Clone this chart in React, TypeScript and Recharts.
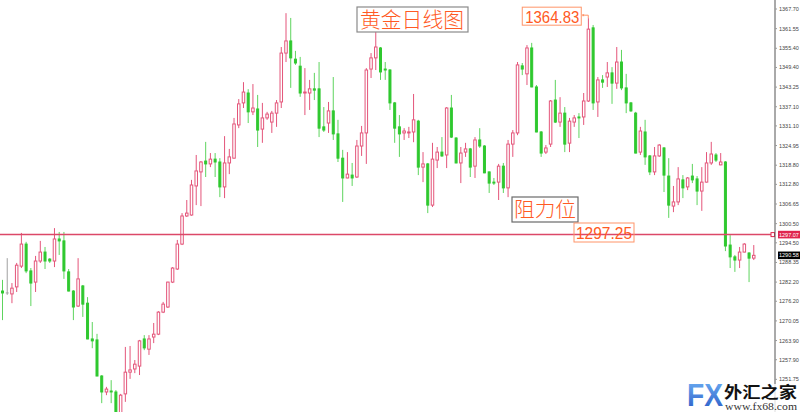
import React from "react";
import { ComposedChart, Bar, XAxis, YAxis, ReferenceLine, ReferenceDot, Label } from "recharts";

// 黄金日线 OHLC
const open = [
  1279.4, 1278.8, 1278.5, 1280.7, 1287.2, 1294.1, 1285.7, 1282.2, 1288.8, 1291.6,
  1289.4, 1288.8, 1295.7, 1295.1, 1285.4, 1279.4, 1274.7, 1281.0, 1275.6, 1264.4,
  1264.1, 1252.8, 1247.8, 1248.1, 1247.8, 1239.5, 1247.2, 1254.0, 1255.0, 1255.9,
  1264.4, 1261.2, 1265.0, 1265.9, 1272.8, 1274.4, 1282.2, 1286.3, 1294.1, 1302.9,
  1303.2, 1312.3, 1316.7, 1320.1, 1319.2, 1320.7, 1319.8, 1312.0, 1319.5, 1321.0,
  1331.4, 1338.3, 1341.4, 1335.5, 1336.4, 1330.1, 1333.6, 1332.3, 1335.1, 1338.6,
  1353.9, 1357.7, 1352.0, 1349.8, 1341.4, 1341.4, 1342.7, 1342.7, 1330.8, 1332.0,
  1335.8, 1328.6, 1321.0, 1314.8, 1315.7, 1315.1, 1324.8, 1328.9, 1348.9, 1352.4,
  1355.5, 1348.9, 1348.6, 1338.3, 1330.8, 1328.9, 1328.9, 1329.2, 1332.6, 1318.2,
  1319.2, 1306.3, 1320.4, 1322.9, 1322.0, 1336.7, 1327.3, 1319.5, 1322.9, 1323.9,
  1318.5, 1326.7, 1324.8, 1316.7, 1313.5, 1313.5, 1318.5, 1311.7, 1325.4, 1328.9,
  1349.9, 1347.4, 1355.5, 1343.3, 1329.2, 1322.9, 1325.4, 1339.2, 1332.3, 1335.1,
  1325.7, 1332.3, 1333.9, 1333.9, 1338.9, 1361.8, 1338.6, 1345.5, 1346.4, 1347.7,
  1344.5, 1351.1, 1343.0, 1338.3, 1335.1, 1322.9, 1329.2, 1321.7, 1316.7, 1321.7,
  1324.2, 1315.4, 1306.0, 1307.3, 1314.2, 1312.0, 1315.4, 1314.5, 1310.7, 1313.5,
  1319.5, 1322.0, 1318.9, 1319.8, 1293.8, 1290.1, 1289.1, 1291.6, 1291.3, 1289.7,
];
const high = [
  1282.9, 1289.7, 1281.9, 1288.2, 1297.6, 1294.8, 1286.6, 1290.4, 1295.1, 1293.2,
  1289.7, 1299.1, 1297.9, 1297.9, 1286.3, 1279.7, 1289.7, 1281.3, 1277.5, 1269.7,
  1266.0, 1253.1, 1249.4, 1251.5, 1248.4, 1247.2, 1261.9, 1262.2, 1257.8, 1264.1,
  1265.6, 1265.6, 1269.4, 1273.1, 1276.0, 1282.3, 1286.9, 1295.4, 1303.8, 1307.9,
  1314.2, 1322.0, 1320.1, 1326.1, 1322.6, 1322.6, 1321.0, 1327.9, 1323.9, 1333.6,
  1339.5, 1344.8, 1342.6, 1344.2, 1340.8, 1338.3, 1335.5, 1335.8, 1339.2, 1355.8,
  1366.4, 1364.9, 1354.6, 1352.7, 1349.2, 1345.5, 1347.7, 1351.1, 1337.0, 1338.6,
  1346.4, 1333.0, 1323.6, 1322.9, 1319.5, 1326.7, 1331.1, 1349.2, 1353.9, 1361.8,
  1355.8, 1351.1, 1348.9, 1338.6, 1334.5, 1330.4, 1330.8, 1341.1, 1333.0, 1322.9,
  1319.5, 1325.8, 1324.5, 1327.6, 1337.0, 1340.8, 1327.6, 1324.5, 1325.8, 1324.2,
  1327.6, 1330.4, 1325.1, 1316.8, 1314.8, 1319.2, 1319.5, 1326.7, 1329.8, 1351.1,
  1350.8, 1356.4, 1357.1, 1343.9, 1329.5, 1325.1, 1339.2, 1345.5, 1340.1, 1337.0,
  1333.6, 1334.5, 1335.1, 1341.4, 1364.83, 1362.7, 1346.4, 1347.0, 1351.1, 1349.5,
  1355.8, 1354.9, 1347.4, 1338.6, 1335.5, 1330.8, 1333.0, 1322.0, 1324.5, 1325.4,
  1324.5, 1321.0, 1312.3, 1318.2, 1315.7, 1315.1, 1319.2, 1315.4, 1318.2, 1322.9,
  1326.1, 1322.6, 1322.6, 1320.1, 1296.9, 1290.7, 1293.2, 1294.4, 1291.6, 1293.8,
];
const low = [
  1270.3, 1278.2, 1275.6, 1279.1, 1286.6, 1285.0, 1274.7, 1279.1, 1288.2, 1286.3,
  1288.2, 1286.9, 1290.7, 1283.2, 1279.3, 1270.3, 1274.4, 1271.3, 1264.3, 1261.5,
  1252.7, 1244.3, 1246.8, 1244.3, 1238.0, 1237.5, 1244.7, 1251.9, 1253.7, 1253.1,
  1260.9, 1259.4, 1263.1, 1265.6, 1272.5, 1274.1, 1281.9, 1286.0, 1293.8, 1302.6,
  1303.0, 1306.3, 1306.0, 1315.1, 1318.2, 1315.1, 1308.8, 1308.5, 1316.0, 1320.9,
  1330.4, 1336.7, 1332.0, 1334.5, 1324.5, 1325.8, 1333.0, 1328.9, 1330.8, 1336.7,
  1351.1, 1343.0, 1350.2, 1340.2, 1334.5, 1336.1, 1339.2, 1327.6, 1329.2, 1328.9,
  1326.7, 1319.8, 1307.3, 1314.7, 1312.3, 1314.8, 1321.7, 1319.2, 1346.1, 1348.6,
  1345.5, 1345.5, 1336.1, 1325.8, 1321.4, 1326.7, 1327.3, 1326.0, 1315.7, 1313.5,
  1303.8, 1305.7, 1317.9, 1321.4, 1317.9, 1327.3, 1319.4, 1313.2, 1321.4, 1315.1,
  1314.8, 1324.2, 1316.3, 1310.1, 1312.6, 1307.9, 1310.1, 1308.8, 1321.4, 1328.2,
  1347.0, 1343.9, 1343.2, 1329.1, 1321.4, 1322.3, 1324.5, 1332.0, 1330.8, 1322.9,
  1322.9, 1330.8, 1327.3, 1331.4, 1338.6, 1336.1, 1333.9, 1343.0, 1343.3, 1338.0,
  1342.7, 1342.3, 1335.1, 1335.5, 1322.5, 1322.0, 1318.9, 1315.7, 1315.7, 1321.4,
  1310.4, 1302.3, 1304.1, 1306.3, 1308.5, 1311.0, 1313.2, 1306.3, 1304.5, 1313.4,
  1318.9, 1319.8, 1318.8, 1291.9, 1286.6, 1285.4, 1286.6, 1291.5, 1282.2, 1289.1,
];
const close = [
  1278.8, 1278.8, 1280.3, 1287.5, 1294.1, 1285.7, 1281.9, 1288.8, 1291.6, 1288.8,
  1288.8, 1295.7, 1295.1, 1285.7, 1279.4, 1274.4, 1283.2, 1275.3, 1264.4, 1263.8,
  1252.8, 1247.8, 1248.7, 1247.8, 1240.5, 1246.8, 1254.0, 1254.7, 1256.5, 1263.8,
  1261.6, 1264.4, 1265.9, 1272.8, 1275.3, 1282.2, 1286.6, 1294.1, 1302.9, 1303.8,
  1312.6, 1317.0, 1319.8, 1319.2, 1320.7, 1319.8, 1312.0, 1319.5, 1321.4, 1331.7,
  1338.0, 1341.7, 1335.5, 1336.7, 1329.8, 1333.6, 1334.8, 1335.1, 1338.3, 1353.9,
  1357.7, 1352.4, 1350.8, 1341.4, 1341.7, 1342.7, 1342.3, 1330.4, 1329.8, 1335.8,
  1328.6, 1321.0, 1314.8, 1316.0, 1314.8, 1324.8, 1328.9, 1348.6, 1352.4, 1355.8,
  1348.0, 1348.6, 1338.3, 1330.4, 1328.6, 1329.5, 1329.2, 1333.0, 1318.2, 1319.2,
  1306.3, 1320.7, 1322.9, 1321.7, 1336.7, 1327.6, 1319.5, 1322.6, 1323.9, 1318.2,
  1326.7, 1324.8, 1316.4, 1313.2, 1313.2, 1318.5, 1311.7, 1325.4, 1328.9, 1350.2,
  1348.9, 1355.5, 1343.3, 1329.2, 1322.6, 1324.2, 1338.9, 1332.3, 1335.1, 1325.4,
  1332.6, 1333.6, 1333.6, 1338.9, 1361.4, 1338.3, 1345.5, 1344.8, 1347.7, 1344.5,
  1351.1, 1343.0, 1338.3, 1335.8, 1322.6, 1329.5, 1321.4, 1316.7, 1321.7, 1325.1,
  1315.7, 1306.3, 1307.3, 1314.5, 1311.7, 1314.8, 1314.2, 1310.7, 1313.5, 1319.5,
  1322.3, 1320.4, 1319.8, 1293.5, 1290.1, 1289.1, 1291.6, 1294.1, 1289.7, 1290.58,
];

const priceTicks = [
  1367.7, 1361.55, 1355.4, 1349.4, 1343.25, 1337.1, 1331.1, 1324.95, 1318.8, 1312.8,
  1306.65, 1300.5, 1294.5, 1288.35, 1282.2, 1276.2, 1270.05, 1263.9, 1257.9, 1251.75,
];
const resistance = 1297.07;
const lastPrice = 1290.58;
const peakDay = 125;
const peakPrice = 1364.83;

const data = open.map((o, i) => ({
  day: i + 1,
  open: o,
  high: high[i],
  low: low[i],
  close: close[i],
  range: [low[i], high[i]],
}));

const UP = "#e4557a";
const DOWN = "#2fc82f";
const DOWN_WICK = "#5ed45e";
const FLAT = "#a0a0a0";
const ORANGE = "#ff5a24";

const Candle = (props: any) => {
  const { x, y, width, height } = props;
  const p = props.payload || props;
  if (x == null || y == null) return null;
  const top = Math.min(y, y + height);
  const bot = Math.max(y, y + height);
  const k = p.high === p.low ? 0 : (bot - top) / (p.high - p.low);
  const py = (v: number) => top + (p.high - v) * k;
  const cx = x + width / 2;
  const up = p.close > p.open;
  const flat = p.close === p.open;
  const bTop = py(Math.max(p.open, p.close));
  const bBot = py(Math.min(p.open, p.close));
  if (flat) {
    return (
      <g>
        <line x1={cx} x2={cx} y1={top} y2={bot} stroke={FLAT} />
        <line x1={cx - 1.5} x2={cx + 1.5} y1={bTop} y2={bTop} stroke={FLAT} />
      </g>
    );
  }
  if (up) {
    return (
      <g>
        <line x1={cx} x2={cx} y1={top} y2={bot} stroke={UP} />
        <rect x={cx - 1.25} y={bTop} width={2.5} height={Math.max(bBot - bTop, 0.5)} fill="#fff" stroke={UP} strokeWidth={1} />
      </g>
    );
  }
  return (
    <g>
      <line x1={cx} x2={cx} y1={top} y2={bot} stroke={DOWN_WICK} />
      <rect x={cx - 1} y={bTop} width={2} height={Math.max(bBot - bTop, 0.5)} fill={DOWN} stroke={DOWN} strokeWidth={1} />
    </g>
  );
};

const AxisTag = ({ viewBox, value, bg, marker }: any) => {
  if (!viewBox) return null;
  const rx = viewBox.x + viewBox.width;
  const cy = viewBox.y;
  return (
    <g>
      {marker && <rect x={rx - 4} y={cy - 2} width={3.5} height={4} fill="#fff" stroke={bg} strokeWidth={1} />}
      <rect x={rx + 3} y={cy - 3.8} width={22} height={7.6} fill={bg} />
      <text x={rx + 4} y={cy + 2} fontSize={5.5} fill="#fff" fontFamily="Liberation Sans">
        {value.toFixed(2)}
      </text>
    </g>
  );
};

const PeakTag = (props: any) => {
  const { cx, cy } = props;
  if (cx == null) return null;
  return (
    <g>
      <rect x={cx - 66} y={cy - 11} width={59} height={18} fill="none" stroke="#ff9468" strokeWidth={1} />
      <text x={cx - 63} y={cy + 4.5} fontSize={17} fill={ORANGE} fontFamily="Liberation Sans" textLength={54} lengthAdjust="spacingAndGlyphs">
        {peakPrice.toFixed(2)}
      </text>
      <rect x={cx - 6} y={cy - 4} width={2} height={2} fill="#ff9468" />
      <polyline points={`${cx - 4},${cy - 3} ${cx},${cy - 3} ${cx},${cy}`} fill="none" stroke="#ff9468" strokeWidth={1} />
    </g>
  );
};

export default function App() {
  return (
    <div style={{ position: "relative", width: 800, height: 412, background: "#fff" }}>
      <style>{"body{margin:0}"}</style>
      <ComposedChart width={800} height={412} data={data} margin={{ top: 0, right: 0, bottom: 0, left: 0 }}>
        <XAxis dataKey="day" hide padding={{ left: 0, right: 19 }} />
        <YAxis
          orientation="right"
          width={25}
          domain={[1241.53, 1370.52]}
          allowDataOverflow
          ticks={priceTicks}
          interval={0}
          tickSize={2}
          tickMargin={2}
          tick={{ fontSize: 5.5, fill: "#444", fontFamily: "Liberation Sans" }}
          tickFormatter={(v: number) => v.toFixed(2)}
          axisLine={{ stroke: "#555" }}
          tickLine={{ stroke: "#999" }}
        />
        <Bar dataKey="range" barSize={3} shape={Candle} isAnimationActive={false} />
        <ReferenceLine y={resistance} stroke="#dc4868" strokeWidth={1.5}>
          <Label content={(p: any) => <AxisTag {...p} value={resistance} bg="#e0264e" marker />} />
        </ReferenceLine>
        <ReferenceLine y={lastPrice} stroke="#000" strokeOpacity={0}>
          <Label content={(p: any) => <AxisTag {...p} value={lastPrice} bg="#000" />} />
        </ReferenceLine>
        <ReferenceDot x={peakDay} y={peakPrice} r={0} ifOverflow="visible" shape={PeakTag} />
      </ComposedChart>
      <svg width={800} height={412} style={{ position: "absolute", left: 0, top: 0, pointerEvents: "none" }}>
        <defs>
          <linearGradient id="fxg" x1="0" y1="0" x2="0" y2="1">
            <stop offset="0%" stopColor="#6fb2f5" />
            <stop offset="100%" stopColor="#2657c4" />
          </linearGradient>
        </defs>
        <rect x={357} y={7} width={111} height={25} fill="#fff" stroke="#8a8a8a" strokeWidth={1.2} />
        <text x={360} y={27} fontSize={21} fontWeight={300} fill={ORANGE} fontFamily="Noto Sans CJK SC" textLength={104} lengthAdjust="spacingAndGlyphs">
          黄金日线图
        </text>
        <rect x={512} y={197} width={66} height={25} fill="#fff" stroke="#6a6a6a" strokeWidth={1.2} />
        <text x={514} y={217} fontSize={20} fontWeight={300} fill={ORANGE} fontFamily="Noto Sans CJK SC" textLength={62} lengthAdjust="spacingAndGlyphs">
          阻力位
        </text>
        <rect x={574} y={223} width={60} height={19} fill="none" stroke="#ff9468" strokeWidth={1} />
        <text x={576} y={239} fontSize={17} fill={ORANGE} fontFamily="Liberation Sans" textLength={56} lengthAdjust="spacingAndGlyphs">
          1297.25
        </text>
        <rect x={684} y={384} width={116} height={28} fill="#fff" fillOpacity={0.8} />
        <text x={687} y={406} fontSize={31} fontWeight="bold" fill="url(#fxg)" fontFamily="Liberation Sans" textLength={36} lengthAdjust="spacingAndGlyphs">
          FX
        </text>
        <text x={724} y={398} fontSize={16} fill="#111" fontFamily="Noto Sans CJK SC" fontWeight="bold" textLength={73} lengthAdjust="spacingAndGlyphs">
          外汇之家
        </text>
        <text x={725} y={410} fontSize={10.5} fill="#333" fontFamily="Liberation Serif" textLength={72} lengthAdjust="spacingAndGlyphs">
          www.fx68.com
        </text>
      </svg>
    </div>
  );
}
